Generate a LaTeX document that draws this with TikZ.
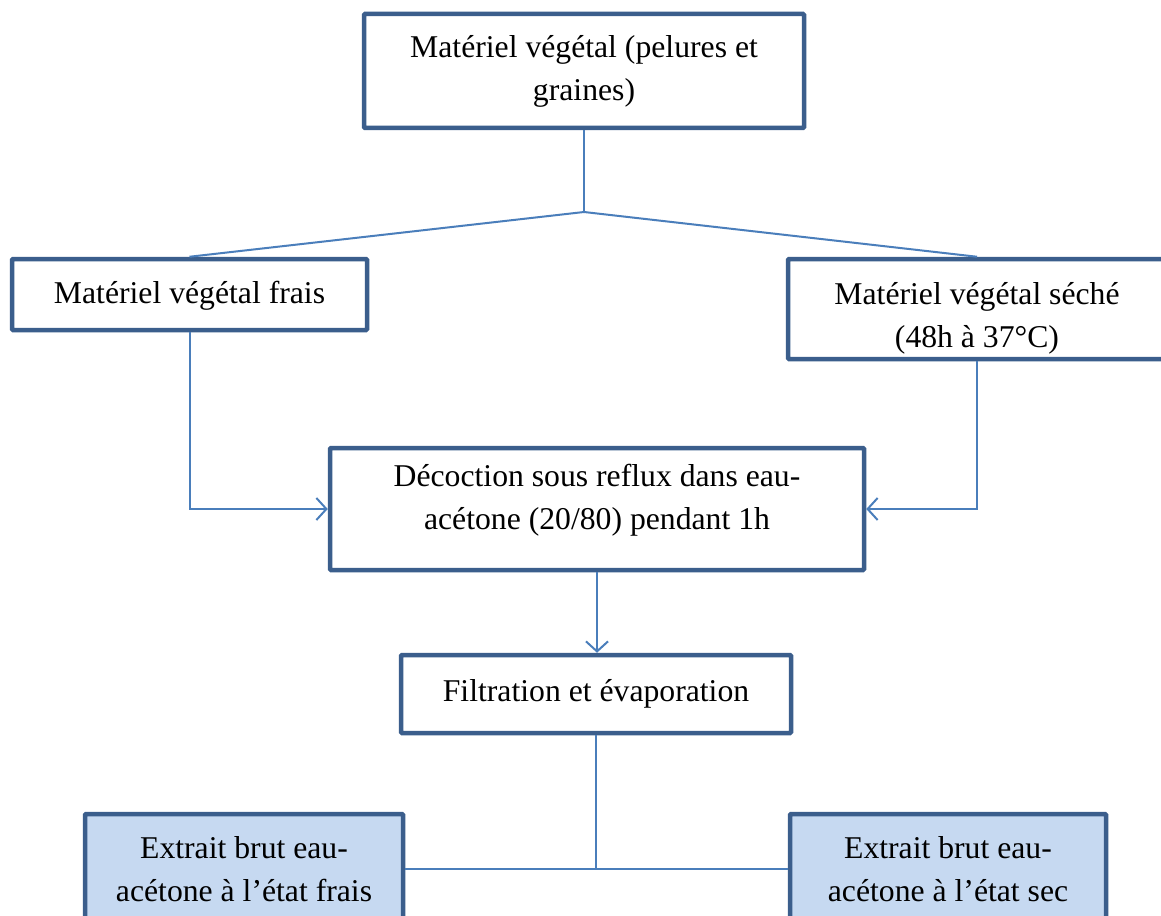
\documentclass[tikz,border=0pt]{standalone}
\usepackage{fontspec}
\setmainfont{Liberation Serif}
\usetikzlibrary{arrows.meta}
\definecolor{boxblue}{HTML}{3B5E8C}
\definecolor{lineblue}{HTML}{4A7EBB}
\definecolor{fillblue}{HTML}{C6D9F1}
\begin{document}
\begin{tikzpicture}[x=1pt,y=-1pt,
  box/.style={draw=boxblue,line width=4.5pt,rounded corners=1pt,align=center,
    font=\fontsize{31.7}{43}\selectfont,inner sep=0pt},
  res/.style={box,fill=fillblue},
  conn/.style={draw=lineblue,line width=2pt},
  arr/.style={conn,-{Straight Barb[length=10pt,width=22pt,line width=2pt]}}]
\useasboundingbox[fill=white] (0,0) rectangle (1161,915);
\node[box,minimum width=440pt,minimum height=114pt] (top) at (584,71) {Matériel végétal (pelures et\\graines)};
\node[box,minimum width=355pt,minimum height=71pt,text height=25pt] (lb) at (189.5,294.5) {Matériel végétal frais};
\node[box,minimum width=378pt,minimum height=100pt,text height=83pt] (rb) at (977,309) {Matériel végétal séché\\(48h à 37°C)};
\node[box,minimum width=534pt,minimum height=122pt,text depth=25pt] (dec) at (597,509) {Décoction sous reflux dans eau-\\acétone (20/80) pendant 1h};
\node[box,minimum width=390pt,minimum height=78pt] (fil) at (596,694) {Filtration et évaporation};
\node[res,minimum width=318pt,minimum height=110pt] (bl) at (244,869) {Extrait brut eau-\\acétone à l’état frais};
\node[res,minimum width=316pt,minimum height=110pt] (br) at (948,869) {Extrait brut eau-\\acétone à l’état sec};
\coordinate (split) at (584,212);
\draw[conn] (top.south) -- (split);
\draw[conn] (split) -- (lb.north);
\draw[conn] (split) -- (rb.north);
\draw[arr] (lb.south) |- (dec.west);
\draw[arr] (rb.south) |- (dec.east);
\draw[arr] (dec.south) -- (dec.south |- fil.north);
\coordinate (junc) at (fil.south |- bl.east);
\draw[conn] (fil.south) -- (junc);
\draw[conn] (junc) -- (bl.east);
\draw[conn] (junc) -- (br.west);
\end{tikzpicture}
\end{document}
